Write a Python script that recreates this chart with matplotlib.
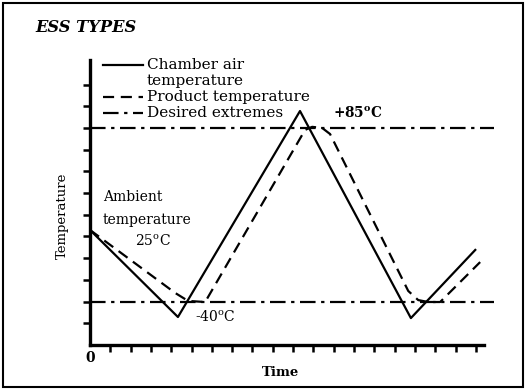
import matplotlib

matplotlib.use("Agg")
import matplotlib.pyplot as plt
from matplotlib.lines import Line2D
from matplotlib.patches import Rectangle

# Schematic chart: no numeric scale, values are in axis-tick units.
chamber_time = [0, 4.33, 10.34, 15.8, 18.97]
chamber_temp = [5.3, 1.29, 10.78, 1.24, 4.38]

product_time = [0, 4.19, 4.83, 5.67, 10.59, 10.94, 11.43, 11.82,
                15.67, 16.16, 16.65, 17.24, 19.21]
product_temp = [5.3, 2.40, 2.03, 1.98, 9.91, 10.05, 10.0, 9.72,
                2.49, 2.07, 1.98, 1.98, 3.82]

extreme_low = 2.0      # -40 C
extreme_high = 10.0    # +85 C
extreme_span = [0, 19.9]

time_ticks = list(range(1, 20))
temp_ticks = list(range(1, 13))

legend_labels = ["Chamber air", "Product temperature", "Desired extremes"]

W, H = 526, 390
plt.rcParams["font.family"] = ["DejaVu Serif"]
plt.rcParams["mathtext.fontset"] = "dejavuserif"

SOLID = "-"
DASHED = (0, (5, 3))
DASHDOT = (0, (7, 2.5, 1.5, 2.5))


def fx(px):
    return px / W


def fy(py):
    return 1 - py / H


fig = plt.figure(figsize=(W / 100, H / 100), dpi=100)
ax = fig.add_axes([fx(90), fy(345), (484 - 90) / W, (345 - 60) / H])

ax.plot(chamber_time, chamber_temp, color="black", lw=1.6, ls=SOLID)
ax.plot(product_time, product_temp, color="black", lw=1.6, ls=DASHED)
for level in (extreme_low, extreme_high):
    ax.plot(extreme_span, [level, level], color="black", lw=1.6, ls=DASHDOT,
            clip_on=False)

ax.set_xlim(0, 19.4)
ax.set_ylim(0, 13.13)
ax.set_xticks(time_ticks)
ax.set_yticks(temp_ticks)
ax.set_xticklabels([])
ax.set_yticklabels([])
ax.tick_params(axis="both", direction="out", length=5, width=1.8, color="black")
for side in ("top", "right"):
    ax.spines[side].set_visible(False)
for side in ("left", "bottom"):
    ax.spines[side].set_linewidth(2.4)

# legend drawn by hand, handle + text
leg_rows = [65, 97, 113]
leg_styles = [SOLID, DASHED, DASHDOT]
for row, style, label in zip(leg_rows, leg_styles, legend_labels):
    fig.add_artist(Line2D([fx(103), fx(143)], [fy(row), fy(row)],
                          color="black", lw=1.6, ls=style))
    fig.text(fx(147), fy(row), label, fontsize=11, va="center", ha="left")
fig.text(fx(147), fy(81), "temperature", fontsize=11, va="center", ha="left")

fig.text(fx(35), fy(28), "ESS TYPES", fontsize=11.7, fontweight="bold",
         fontstyle="italic", va="center", ha="left")

fig.text(fx(333), fy(113), r"+85$^{\mathbf{o}}$C", fontsize=9.8,
         fontweight="bold", va="center")
fig.text(fx(195), fy(317), r"-40$^{\mathrm{o}}$C", fontsize=10, va="center")
fig.text(fx(103), fy(197), "Ambient", fontsize=10, va="center")
fig.text(fx(103), fy(220), "temperature", fontsize=10, va="center")
fig.text(fx(135), fy(241), r"25$^{\mathrm{o}}$C", fontsize=10, va="center")

fig.text(fx(62), fy(216), "Temperature", fontsize=9.5, rotation=90,
         va="center", ha="center")
fig.text(fx(90), fy(358), "0", fontsize=10, fontweight="bold",
         va="center", ha="center")
fig.text(fx(281), fy(372), "Time", fontsize=9.5, fontweight="bold",
         va="center", ha="center")

# scanned page frame
fig.add_artist(Rectangle((fx(3), fy(387)), fx(520), 384 / H, fill=False,
                         edgecolor="black", lw=1.5, transform=fig.transFigure))

fig.savefig("out.png", dpi=100)
